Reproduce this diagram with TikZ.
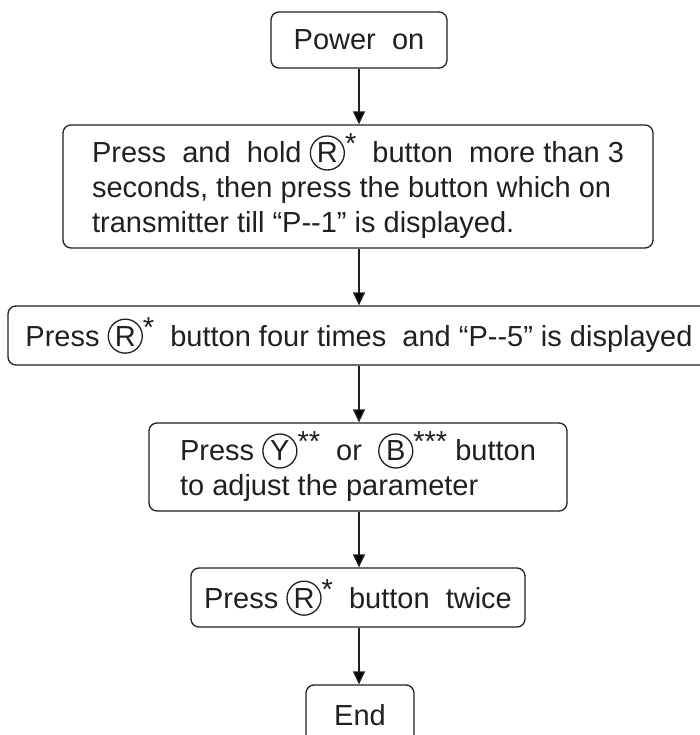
\documentclass[tikz,border=0pt]{standalone}
\usepackage{fontspec}
\setmainfont{Liberation Sans}
\usetikzlibrary{arrows.meta}
\definecolor{ink}{HTML}{231F20}
\newcommand{\circled}[1]{\tikz[baseline=(cc.base)]\node[circle,draw=ink,line width=1.3pt,inner sep=0pt,minimum size=34pt,text=ink](cc){#1};}
\newcommand{\sstar}[1]{\raisebox{9pt}{#1}}
\begin{document}
\begin{tikzpicture}[x=1pt,y=-1pt,
  box/.style={draw=ink,line width=1.3pt,rounded corners=8pt,text=ink,inner sep=0pt,font=\fontsize{29}{35}\selectfont},
  flow/.style={draw=ink,line width=1.3pt,-{Triangle[length=13pt,width=12pt]}}]
\useasboundingbox (0,0) rectangle (700,735);
\node[box,minimum width=176pt,minimum height=56pt] (b1) at (359,40) {Power\ \ on};
\node[box,minimum width=590pt,minimum height=123pt,align=left] (b2) at (358,186.5)
  {Press\ \ and\ \ hold \circled{R}\sstar{*}\ \ button\ \ more than 3\\
   seconds, then press the button which on\\
   transmitter till “P-{}-1” is displayed.};
\node[box,minimum width=702pt,minimum height=59pt] (b3) at (359,335.5)
  {Press \circled{R}\sstar{*}\ \ button four times\ \ and “P-{}-5” is displayed};
\node[box,minimum width=418pt,minimum height=88pt,align=left] (b4) at (358,467)
  {Press \circled{Y}\sstar{**}\ \ or\ \ \circled{B}\sstar{***} button\\
   to adjust the parameter};
\node[box,minimum width=334pt,minimum height=59pt] (b5) at (358,597.5)
  {Press \circled{R}\sstar{*}\ \ button\ \ twice};
\node[box,minimum width=108pt,minimum height=60pt] (b6) at (360,715) {End};
\draw[flow] (b1.south) -- (b1.south |- b2.north);
\draw[flow] (b1.south |- b2.south) -- (b1.south |- b3.north);
\draw[flow] (b1.south |- b3.south) -- (b1.south |- b4.north);
\draw[flow] (b1.south |- b4.south) -- (b1.south |- b5.north);
\draw[flow] (b1.south |- b5.south) -- (b1.south |- b6.north);
\end{tikzpicture}
\end{document}
